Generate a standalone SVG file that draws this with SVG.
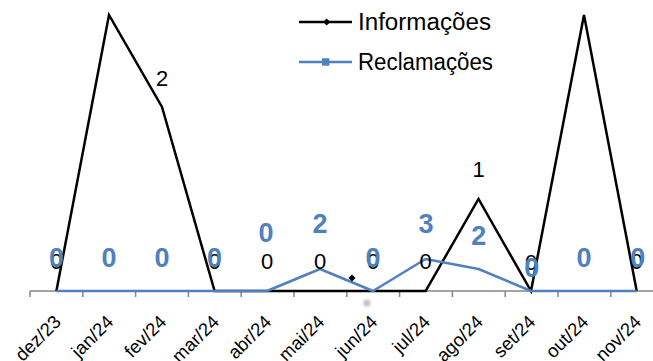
<svg xmlns="http://www.w3.org/2000/svg" width="653" height="361" viewBox="0 0 653 361">
<defs>
<style>
.axis{stroke:#868686;stroke-width:1.5;fill:none}
.inf{stroke:#000;stroke-width:2.5;fill:none;stroke-linejoin:miter}
.rec{stroke:#4F81BD;stroke-width:2.5;fill:none;stroke-linejoin:round}
.lblk{font-family:"Liberation Sans",Arial,sans-serif;font-size:22px;fill:#000;text-anchor:middle}
.lblu{font-family:"Liberation Sans",Arial,sans-serif;font-size:27px;font-weight:bold;fill:#4F81BD;text-anchor:middle}
.cat{font-family:"Liberation Sans",Arial,sans-serif;font-size:18.5px;fill:#000;text-anchor:end}
.leg{font-family:"Liberation Sans",Arial,sans-serif;font-size:23.5px;fill:#000}
</style>
<filter id="blur" x="-1" y="-1" width="3" height="3"><feGaussianBlur stdDeviation="1.5"/></filter>
</defs>
<rect width="653" height="361" fill="#fff"/>
<g id="axis">
<line class="axis" x1="30" y1="291" x2="653" y2="291"/>
<path class="axis" d="M30 291V297M82.8 291V297M135.6 291V297M188.4 291V297M241.2 291V297M294 291V297M346.8 291V297M399.6 291V297M452.4 291V297M505.2 291V297M558 291V297M610.8 291V297"/>
</g>
<g id="x-labels">
<text class="cat" transform="translate(62,323) rotate(-45)">dez/23</text>
<text class="cat" transform="translate(114.6,323) rotate(-45)">jan/24</text>
<text class="cat" transform="translate(167.6,323) rotate(-45)">fev/24</text>
<text class="cat" transform="translate(220.2,323) rotate(-45)">mar/24</text>
<text class="cat" transform="translate(272.6,323) rotate(-45)">abr/24</text>
<text class="cat" transform="translate(325.6,323) rotate(-45)">mai/24</text>
<text class="cat" transform="translate(378.6,323) rotate(-45)">jun/24</text>
<text class="cat" transform="translate(431.2,323) rotate(-45)">jul/24</text>
<text class="cat" transform="translate(484.1,323) rotate(-45)">ago/24</text>
<text class="cat" transform="translate(536.6,323) rotate(-45)">set/24</text>
<text class="cat" transform="translate(589.6,323) rotate(-45)">out/24</text>
<text class="cat" transform="translate(642.3,323) rotate(-45)">nov/24</text>
</g>
<g id="connectors">
<polyline id="informacoes" class="inf" points="56.4,291 109,15 162,107 214.6,291 267,291 320,291 373,291 425.6,291 478.5,199 531,291 584,15 636.7,291"/>
<polyline id="reclamacoes" class="rec" points="56.4,291 109,291 162,291 214.6,291 267,291 320,269 373,291 425.6,259 478.5,269 531,291 584,291 636.7,291"/>
<rect x="349.5" y="275.5" width="5" height="5" fill="#000" transform="rotate(45 352 278)"/>
<circle cx="367" cy="303" r="3.5" fill="#bdbdbd" filter="url(#blur)"/>
</g>
<g id="labels-informacoes">
<text class="lblk" x="56.4" y="269">0</text>
<text class="lblk" x="162" y="86">2</text>
<text class="lblk" x="214.6" y="269">0</text>
<text class="lblk" x="267" y="269">0</text>
<text class="lblk" x="320" y="269">0</text>
<text class="lblk" x="373" y="269">0</text>
<text class="lblk" x="425.6" y="269">0</text>
<text class="lblk" x="478.5" y="177">1</text>
<text class="lblk" x="531" y="270">0</text>
<text class="lblk" x="636.7" y="269">0</text>
</g>
<g id="labels-reclamacoes">
<text class="lblu" x="56.4" y="267">0</text>
<text class="lblu" x="109" y="267">0</text>
<text class="lblu" x="162" y="267">0</text>
<text class="lblu" x="214.6" y="267">0</text>
<text class="lblu" x="266" y="242">0</text>
<text class="lblu" x="320" y="233">2</text>
<text class="lblu" x="373" y="267">0</text>
<text class="lblu" x="426" y="233">3</text>
<text class="lblu" x="478.7" y="245">2</text>
<text class="lblu" x="531.7" y="277">0</text>
<text class="lblu" x="584" y="267">0</text>
<text class="lblu" x="637.7" y="267">0</text>
</g>
<g id="legend">
<line x1="299" y1="22" x2="352" y2="22" stroke="#000" stroke-width="2.5"/>
<rect x="324.2" y="19.5" width="5" height="5" fill="#000" transform="rotate(45 326.7 22)"/>
<text class="leg" x="358" y="30" textLength="133" lengthAdjust="spacingAndGlyphs">Informações</text>
<line x1="299" y1="62" x2="352" y2="62" stroke="#4F81BD" stroke-width="2.5"/>
<rect x="322" y="58.3" width="7.4" height="7.4" fill="#4F81BD"/>
<text class="leg" x="358" y="70" textLength="135" lengthAdjust="spacingAndGlyphs">Reclamações</text>
</g>
</svg>
